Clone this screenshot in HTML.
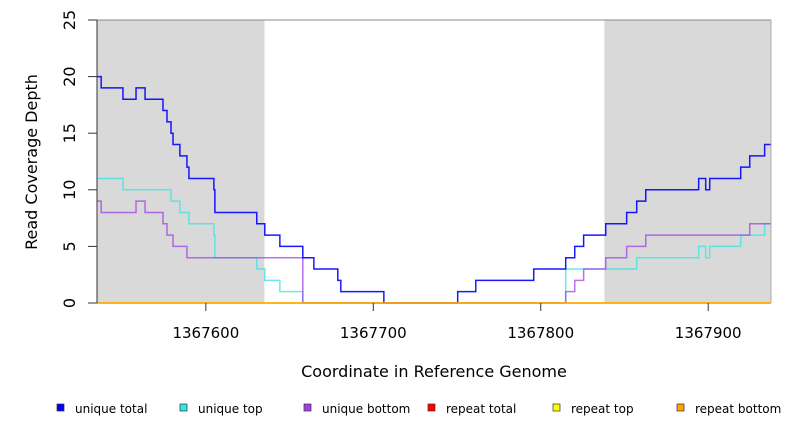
<!DOCTYPE html>
<html><head><meta charset="utf-8"><style>
body{margin:0;background:#fff;width:792px;height:432px;overflow:hidden;font-family:"DejaVu Sans","Liberation Sans",sans-serif}
svg{display:block}
</style></head><body>
<svg id="chart" width="792" height="432" xmlns="http://www.w3.org/2000/svg">
<g id="bg"></g>
<g id="series"></g>
<g id="axes"></g>
<text x="434" y="377" font-size="16" text-anchor="middle" fill="#000">Coordinate in Reference Genome</text>
<text transform="translate(37,162) rotate(-90)" font-size="16" text-anchor="middle" fill="#000">Read Coverage Depth</text>
<g id="legend"></g>
</svg>
<script>
const xTicks = [1367600, 1367700, 1367800, 1367900];
const yTicks = [0, 5, 10, 15, 20, 25];
const shadedRegions = [[1367535, 1367635], [1367838, 1367937.5]];
const seriesNames = ["unique total","unique top","unique bottom","repeat total","repeat top","repeat bottom"];
const seriesColors = ["#0000ff","#33e6e6","#a040e8","#ff0000","#ffff00","#ffa500"];
// step breakpoints: coordinates and values
const totalX = [1367535,1367537.5,1367550.5,1367558.3,1367563.7,1367574.4,1367576.8,1367579.2,1367580.4,1367584.5,1367588.7,1367589.9,1367604.8,1367605.4,1367630.4,1367635.2,1367644.2,1367657.9,1367664.5,1367678.8,1367680.6,1367706.3,1367750.4,1367761.2,1367795.8,1367814.9,1367820.3,1367825.6,1367838.8,1367851.3,1367857.3,1367862.7,1367894.3,1367898.5,1367900.9,1367919.4,1367924.8,1367933.7];
const totalY = [20,19,18,19,18,17,16,15,14,13,12,11,10,8,7,6,5,4,3,2,1,0,1,2,3,4,5,6,7,8,9,10,11,10,11,12,13,14];
const topX = [1367535,1367550.5,1367579.2,1367584.5,1367589.9,1367604.8,1367605.4,1367630.4,1367635.2,1367644.2,1367657.9,1367814.9,1367857.3,1367894.3,1367898.5,1367900.9,1367919.4,1367933.7];
const topY = [11,10,9,8,7,6,4,3,2,1,0,3,4,5,4,5,6,7];
const bottomX = [1367535,1367537.5,1367558.3,1367563.7,1367574.4,1367576.8,1367580.4,1367588.7,1367657.9,1367814.9,1367820.3,1367825.6,1367838.8,1367851.3,1367862.7,1367924.8];
const bottomY = [9,8,9,8,7,6,5,4,0,1,2,3,4,5,6,7];
const repeatX = [1367535];
const repeatTotalY = [0];
const repeatTopY = [0];
const repeatBottomY = [0];

const X0=1367535, X1=1367937.5, PL=97, PR=771, PT=20, PB=303;
const sx = v => PL + (v - X0) * (PR - PL) / (X1 - X0);
const sy = v => PB - v * (PB - PT) / 25;
const NS="http://www.w3.org/2000/svg";
function mk(tag, attrs, parent){const e=document.createElementNS(NS,tag);for(const k in attrs)e.setAttribute(k,attrs[k]);parent.appendChild(e);return e;}
const bg=document.getElementById('bg'), ser=document.getElementById('series'), ax=document.getElementById('axes'), lg=document.getElementById('legend');
shadedRegions.forEach(r=>{
  const e=mk('rect',{x:sx(r[0]),y:PT,width:sx(r[1])-sx(r[0]),height:PB-PT,fill:'#d9d9d9'},bg);
  
  
});
function stepPath(xs, ys){
  let d='M'+sx(xs[0])+','+sy(ys[0]);
  for(let i=1;i<xs.length;i++){d+=' H'+sx(xs[i])+' V'+sy(ys[i]);}
  d+=' H'+PR; return d;
}
const sets=[[totalX,totalY,0],[topX,topY,1],[bottomX,bottomY,2],[repeatX,repeatTotalY,3],[repeatX,repeatTopY,4],[repeatX,repeatBottomY,5]];
[1,2,0,3,4,5].forEach(i=>{
  const s=sets[i];
  const e=mk('path',{d:stepPath(s[0],s[1]),fill:'none',stroke:seriesColors[i],'stroke-width':1.5,'stroke-opacity':i===0?0.9:0.75},ser);
  
  
});
mk('line',{x1:PL,y1:PT,x2:PR,y2:PT,stroke:'#888','stroke-width':1},ax);
mk('line',{x1:PR,y1:PT,x2:PR,y2:PB,stroke:'#aaa','stroke-width':1},ax);
mk('line',{x1:PL,y1:PT,x2:PL,y2:PB,stroke:'#333','stroke-width':1},ax);
yTicks.forEach(v=>{
  mk('line',{x1:88,y1:sy(v),x2:PL,y2:sy(v),stroke:'#333'},ax);
  const t=mk('text',{transform:`translate(75,${sy(v)}) rotate(-90)`,'font-size':16,'text-anchor':'middle',fill:'#000'},ax);
  t.textContent=v;
  
  
});
xTicks.forEach(v=>{
  mk('line',{x1:sx(v),y1:PB,x2:sx(v),y2:PB+8,stroke:'#333'},ax);
  const t=mk('text',{x:sx(v),y:PB+35,'font-size':15,'text-anchor':'middle',fill:'#000'},ax);
  t.textContent=v;
  
  
});
const legX=[57,180,304,428,553,677];
seriesNames.forEach((n,i)=>{
  const g=mk('g',{},lg);
  
  
  mk('rect',{x:legX[i],y:404,width:7,height:7,fill:seriesColors[i],stroke:'#333','stroke-width':0.7},g);
  const t=mk('text',{x:legX[i]+18,y:413,'font-size':12,fill:'#000'},g);
  t.textContent=n;
});
</script>
</body></html>
